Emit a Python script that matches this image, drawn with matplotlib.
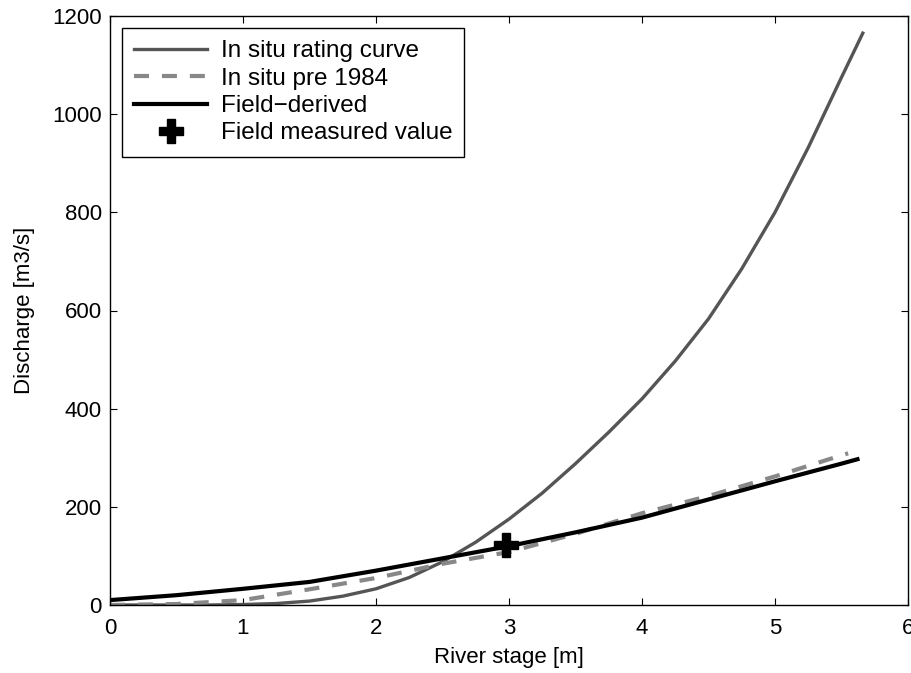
import matplotlib.pyplot as plt

plt.rcParams['font.family'] = ['Liberation Sans', 'DejaVu Sans']

# In situ rating curve
stage_insitu = [0, 0.25, 0.5, 0.75, 1.0, 1.25, 1.5, 1.75, 2.0, 2.25, 2.5, 2.75,
                3.0, 3.25, 3.5, 3.75, 4.0, 4.25, 4.5, 4.75, 5.0, 5.25, 5.5, 5.66]
q_insitu = [0, 0, 0, 0, 1, 3, 8, 18, 33, 56, 88, 128,
            175, 228, 288, 352, 420, 497, 583, 685, 800, 932, 1075, 1165]

# In situ pre 1984
stage_pre84 = [0, 0.5, 1.0, 1.5, 2.0, 2.5, 3.0, 3.5, 4.0, 4.5, 5.0, 5.5, 5.55]
q_pre84 = [0, 2, 10, 32, 55, 84, 108, 145, 187, 222, 262, 305, 309]

# Field-derived
stage_field = [0, 0.5, 1.0, 1.5, 2.0, 2.5, 3.0, 3.5, 4.0, 4.5, 5.0, 5.5, 5.62]
q_field = [10, 20, 33, 47, 70, 95, 120, 148, 178, 215, 252, 288, 297]

# Field measured value
meas_stage = [2.98]
meas_q = [122]

fig = plt.figure(figsize=(9.12, 6.73), dpi=100)
ax = fig.add_axes([110/912, 68/673, 798/912, 589/673])

ax.plot(stage_insitu, q_insitu, color='#555555', lw=2.4, label='In situ rating curve')
ax.plot(stage_pre84, q_pre84, color='#888888', lw=3, dashes=(3.6, 3.1), label='In situ pre 1984')
ax.plot(stage_field, q_field, color='black', lw=3, label='Field\u2212derived')
ax.plot(meas_stage, meas_q, linestyle='none', marker='P', markersize=17,
        color='black', label='Field measured value')

ax.set_xlim(0, 6)
ax.set_ylim(0, 1200)
ax.set_xticks(range(0, 7))
ax.set_yticks(range(0, 1201, 200))
ax.tick_params(direction='in', length=5, width=0.8, top=True, right=True, labelsize=16)
ax.tick_params(axis='x', pad=9)
ax.tick_params(axis='y', pad=6)
for s in ax.spines.values():
    s.set_linewidth(1.0)

ax.set_xlabel('River stage [m]', fontsize=16, labelpad=6)
ax.set_ylabel('Discharge [m3/s]', fontsize=16, labelpad=12)

leg = ax.legend(loc='upper left', fontsize=17.5, handlelength=3.0, handletextpad=0.55,
                borderpad=0.5, labelspacing=0.22, borderaxespad=0.5,
                fancybox=False, framealpha=1, numpoints=1)
leg.get_frame().set_edgecolor('black')
leg.get_frame().set_linewidth(1.0)

fig.savefig('out.png', dpi=100)
